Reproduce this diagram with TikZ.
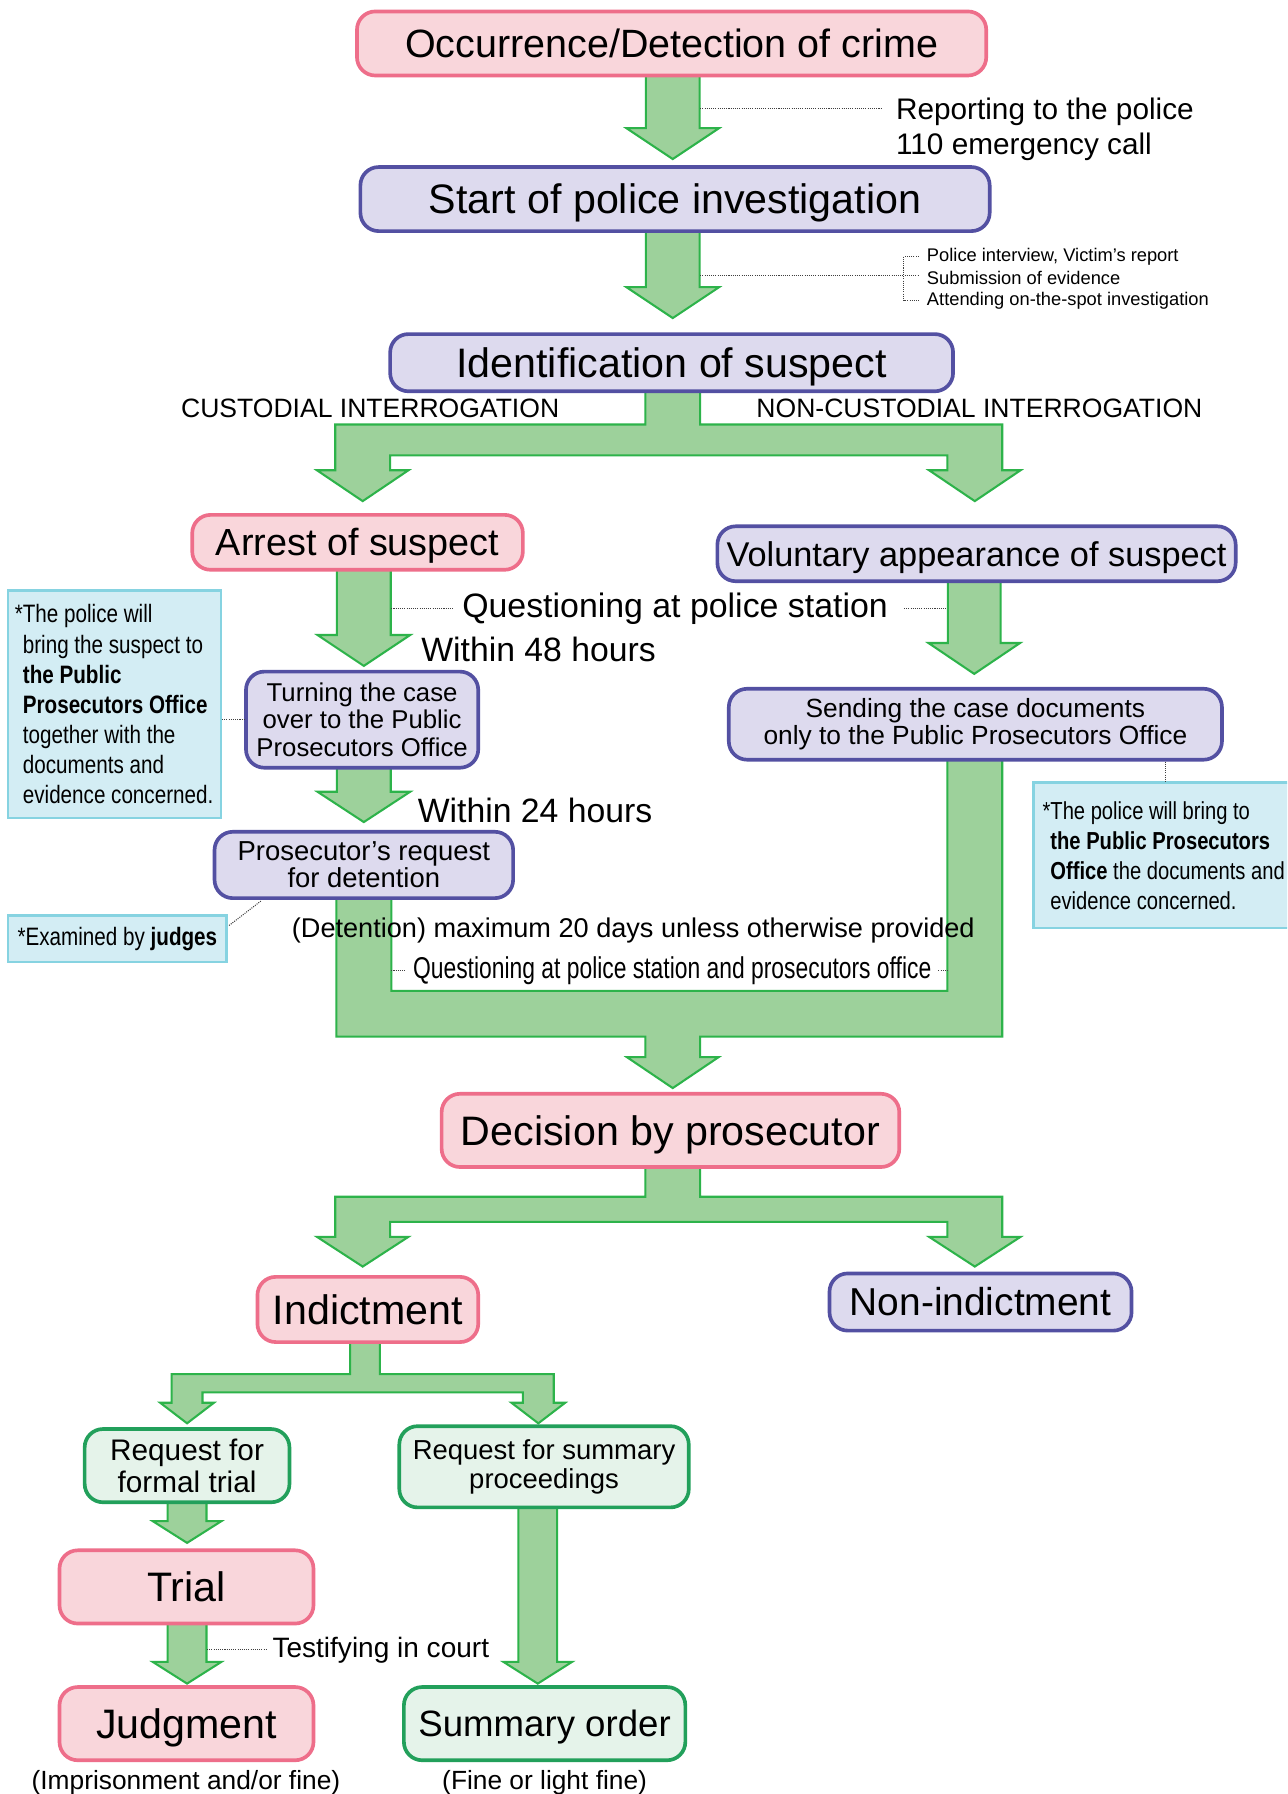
\documentclass[tikz,border=0pt]{standalone}
\usepackage{fontspec}
\setmainfont{Liberation Sans}
\newfontfamily\condfont[FakeStretch=0.82]{Liberation Sans}
\newfontfamily\narrowfont[FakeStretch=0.76]{Liberation Sans}
\usetikzlibrary{calc}
\definecolor{pinkfill}{HTML}{F9D6DB}
\definecolor{pinkdraw}{HTML}{EE6E8A}
\definecolor{purplefill}{HTML}{DDDAEE}
\definecolor{purpledraw}{HTML}{5350A2}
\definecolor{gboxfill}{HTML}{E5F3EA}
\definecolor{gboxdraw}{HTML}{22A05B}
\definecolor{arrowfill}{HTML}{9DD19B}
\definecolor{arrowdraw}{HTML}{2DB34A}
\definecolor{notefill}{HTML}{D3EDF4}
\definecolor{notedraw}{HTML}{86D3E1}
\newcommand{\fsz}[2]{\fontsize{#1}{#2}\selectfont}
\newcommand{\dnarrow}[6]{\draw[blockarrow] ({#1-#5},#2) -- ({#1-#5},#3) -- ({#1-#6},#3) -- (#1,#4) -- ({#1+#6},#3) -- ({#1+#5},#3) -- ({#1+#5},#2) -- cycle;}
\tikzset{
  blockarrow/.style={fill=arrowfill, draw=arrowdraw, line width=1.8pt, line join=miter},
  box/.style={rounded corners=16pt, line width=3.2pt, inner sep=0pt, align=center},
  pinkbox/.style={box, draw=pinkdraw, fill=pinkfill},
  purplebox/.style={box, draw=purpledraw, fill=purplefill},
  greenbox/.style={box, draw=gboxdraw, fill=gboxfill},
  notebox/.style={draw=notedraw, fill=notefill, line width=2.2pt},
  dotline/.style={densely dotted, line width=0.9pt, black!75},
  ctext/.style={text height=#1, text depth=0pt},
  lbl/.style={inner sep=0pt}
}
\begin{document}
\begin{tikzpicture}[x=1pt, y=-1pt]
\clip (0,0) rectangle (1125,1568);
\fill[white] (0,0) rectangle (1125,1568);

% ---------- block arrows ----------
\dnarrow{588}{55}{112}{139}{23.5}{40.5}
\dnarrow{588}{190}{251}{278}{23.5}{40.5}
\draw[blockarrow] (564,330) -- (564,371) -- (293,371) -- (293,411) -- (277,411) -- (317,438) -- (357,411) -- (341,411) -- (341,398) -- (828,398) -- (828,411) -- (812,411) -- (852,438) -- (892,411) -- (876,411) -- (876,371) -- (612,371) -- (612,330) -- cycle;
\dnarrow{318}{490}{555}{582}{23.5}{40.5}
\dnarrow{851.5}{500}{562}{589}{23}{40}
\dnarrow{318}{660}{692}{718.5}{23.5}{40.5}
\draw[blockarrow] (294,775) -- (294,906) -- (564,906) -- (564,924) -- (548,924) -- (588,951) -- (628,924) -- (612,924) -- (612,906) -- (876,906) -- (876,655) -- (828,655) -- (828,866) -- (342,866) -- (342,775) -- cycle;
\draw[blockarrow] (564,1010) -- (564,1046) -- (293,1046) -- (293,1081) -- (277,1081) -- (317,1107) -- (357,1081) -- (341,1081) -- (341,1068) -- (828,1068) -- (828,1081) -- (812,1081) -- (852,1107) -- (892,1081) -- (876,1081) -- (876,1046) -- (612,1046) -- (612,1010) -- cycle;
\draw[blockarrow] (306,1165) -- (306,1201) -- (150,1201) -- (150,1226) -- (140,1226) -- (163.5,1244) -- (187,1226) -- (177,1226) -- (177,1217) -- (457,1217) -- (457,1226) -- (447,1226) -- (470.5,1244) -- (494,1226) -- (484,1226) -- (484,1201) -- (332,1201) -- (332,1165) -- cycle;
\dnarrow{163.5}{1305}{1329.5}{1348.5}{17}{30}
\dnarrow{163.5}{1410}{1452.5}{1471.5}{17}{30}
\dnarrow{470}{1310}{1452.5}{1471.5}{17}{30}

% ---------- boxes ----------
\node[pinkbox, minimum width=550pt, minimum height=56pt, font=\fsz{34.5}{40}, ctext=24.7pt] (occ) at (587,38) {Occurrence/Detection of crime};
\node[purplebox, minimum width=550pt, minimum height=56pt, font=\fsz{36}{40}, ctext=25.8pt] (start) at (590,174) {Start of police investigation};
\node[purplebox, minimum width=492pt, minimum height=50pt, font=\fsz{36}{40}, ctext=25.8pt] (ident) at (587,317) {Identification of suspect};
\node[pinkbox, minimum width=289pt, minimum height=48pt, font=\fsz{33}{38}, ctext=23.6pt] (arrest) at (312.5,474) {Arrest of suspect};
\node[purplebox, minimum width=453pt, minimum height=48pt, font=\fsz{30}{36}, ctext=21.5pt] (volun) at (853.5,484) {Voluntary appearance of suspect};
\node[purplebox, minimum width=203pt, minimum height=84pt, font=\fsz{22.5}{24}] (turn) at (316.5,629) {Turning the case\\over to the Public\\Prosecutors Office};
\node[purplebox, minimum width=431pt, minimum height=62pt, font=\fsz{23}{24}] (send) at (852.5,633) {Sending the case documents\\only to the Public Prosecutors Office};
\node[purplebox, minimum width=261pt, minimum height=58pt, font=\fsz{24}{20.5}] (prosec) at (318,756) {Prosecutor’s request\\for detention};
\node[pinkbox, minimum width=400pt, minimum height=64pt, font=\fsz{36}{40}, ctext=25.8pt] (decis) at (586,988) {Decision by prosecutor};
\node[pinkbox, minimum width=193pt, minimum height=57pt, font=\fsz{36}{40}, ctext=25.8pt] (indict) at (321.5,1144.5) {Indictment};
\node[purplebox, minimum width=264pt, minimum height=50pt, font=\fsz{34}{40}, ctext=24.3pt] (nonind) at (857,1138) {Non-indictment};
\node[greenbox, minimum width=179pt, minimum height=64pt, font=\fsz{26}{28}] (formal) at (163.5,1281) {Request for\\formal trial};
\node[greenbox, minimum width=253pt, minimum height=71pt, font=\fsz{24}{25}] (summreq) at (475.5,1282) {Request for summary\\proceedings};
\node[pinkbox, minimum width=222pt, minimum height=64pt, font=\fsz{36}{40}, ctext=25.8pt] (trial) at (163,1387) {Trial};
\node[pinkbox, minimum width=222pt, minimum height=64pt, font=\fsz{36}{40}, ctext=25.8pt] (judg) at (163,1506.5) {Judgment};
\node[greenbox, minimum width=246pt, minimum height=64pt, font=\fsz{32}{40}, ctext=22.9pt] (summord) at (476,1506.5) {Summary order};

% ---------- notes ----------
\node[notebox, minimum height=199pt, text width=180pt, align=flush left, inner xsep=3pt, inner ysep=0pt, font=\condfont\fsz{22}{26.3}] (note1) at (100,615.5) {\leftskip=10pt\llap{*}The police will\\bring the suspect to\\\textbf{the Public}\\\textbf{Prosecutors Office}\\together with the\\documents and\\evidence concerned.\par};
\node[notebox, minimum width=191pt, minimum height=41pt, font=\condfont\fsz{22}{26}, anchor=west, inner xsep=6pt] (note2) at (6,820.5) {*Examined by \textbf{judges}};
\node[notebox, minimum height=127pt, text width=230pt, align=flush left, inner xsep=3pt, inner ysep=0pt, anchor=north west, font=\condfont\fsz{21.5}{26.3}] (note3) at (902,683) {\leftskip=12pt\llap{*}The police will bring to\\\textbf{the Public Prosecutors}\\\textbf{Office} the documents and\\evidence concerned.\par};

% ---------- labels ----------
\node[lbl, anchor=west, font=\fsz{26}{30}] (rep1) at (783,98) {Reporting to the police};
\node[lbl, anchor=west, font=\fsz{26}{30}] (rep2) at (783,128) {110 emergency call};
\node[lbl, anchor=west, font=\fsz{16}{19}] (br1) at (810,224) {Police interview, Victim’s report};
\node[lbl, anchor=west, font=\fsz{16}{19}] (br2) at (810,243) {Submission of evidence};
\node[lbl, anchor=west, font=\fsz{16}{19}] (br3) at (810,263) {Attending on-the-spot investigation};
\node[lbl, font=\fsz{23.2}{26}] (cust) at (323.5,357) {CUSTODIAL INTERROGATION};
\node[lbl, font=\fsz{23.2}{26}] (noncust) at (856,357) {NON-CUSTODIAL INTERROGATION};
\node[lbl, font=\fsz{29.6}{34}] (qps) at (590,532) {Questioning at police station};
\node[lbl, anchor=west, font=\fsz{29.5}{34}] (w48) at (368,568) {Within 48 hours};
\node[lbl, anchor=west, font=\fsz{29.5}{34}] (w24) at (365,708) {Within 24 hours};
\node[lbl, font=\fsz{23.7}{28}] (det) at (553.5,813) {(Detention) maximum 20 days unless otherwise provided};
\node[lbl, font=\narrowfont\fsz{26.3}{30}] (qpp) at (587.5,848) {Questioning at police station and prosecutors office};
\node[lbl, anchor=west, font=\fsz{24.5}{28}] (testify) at (238,1442) {Testifying in court};
\node[lbl, font=\fsz{23}{27}] (imp) at (162.5,1558) {(Imprisonment and/or fine)};
\node[lbl, font=\fsz{23}{27}] (fine) at (476,1558) {(Fine or light fine)};

% ---------- dotted leader lines ----------
\coordinate (a1) at (612,95);
\coordinate (repend) at (770,95);
\coordinate (a2) at (612,241);
\coordinate (brk) at (790,0);
\coordinate (tick) at (803,0);
\coordinate (legl) at (342,0);
\coordinate (legr) at (828,0);
\coordinate (c1) at (1019,0);
\coordinate (shaftt) at (181,0);
\draw[dotline] (a1) -- (repend);
\draw[dotline] (a2) -- (a2 -| tick);
\draw[dotline] (br1.west -| tick) -- (br1.west -| brk) -- (br3.west -| brk) -- (br3.west -| tick);
\draw[dotline] (qps.west -| legl) -- ([xshift=-7pt]qps.west);
\draw[dotline] ([xshift=14pt]qps.east) -- (qps.east -| legr);
\draw[dotline] (qpp.west -| legl) -- ([xshift=-6pt]qpp.west);
\draw[dotline] ([xshift=6pt]qpp.east) -- (qpp.east -| legr);
\draw[dotline] (turn.west -| note1.east) -- (turn.west);
\draw[dotline] ($(note2.north east)+(1,10)$) -- ($(prosec.south west)+(42,1)$);
\draw[dotline] (send.south -| c1) -- (note3.north -| c1);
\draw[dotline] (testify.west -| shaftt) -- ([xshift=-4pt]testify.west);
\end{tikzpicture}
\end{document}
